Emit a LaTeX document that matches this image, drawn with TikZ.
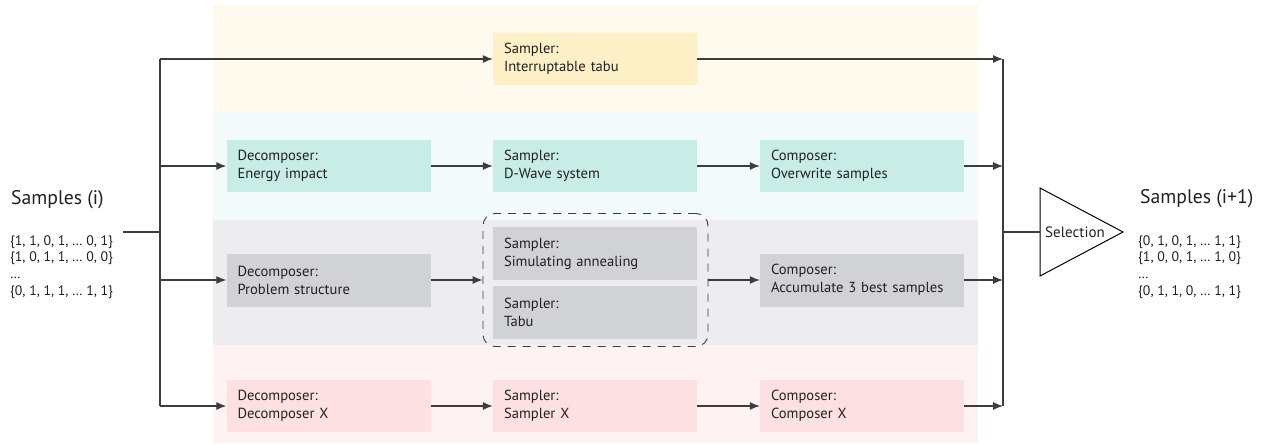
\documentclass[tikz,border=0pt]{standalone}
\usepackage{fontspec}
\setmainfont{PT Sans}
\usetikzlibrary{arrows.meta}
\definecolor{ybandc}{HTML}{FEFBEE}
\definecolor{yboxc}{HTML}{FEF0C6}
\definecolor{cbandc}{HTML}{F3FBFA}
\definecolor{cboxc}{HTML}{C7EDE6}
\definecolor{gbandc}{HTML}{EDEDEF}
\definecolor{gboxc}{HTML}{D1D2D6}
\definecolor{pbandc}{HTML}{FEF2F2}
\definecolor{pboxc}{HTML}{FDE1E2}
\definecolor{txtc}{HTML}{231F20}
\definecolor{linec}{HTML}{3C3C3C}
\tikzset{
  stagebox/.style={minimum width=204pt, minimum height=52pt, text width=182pt,
    inner xsep=11pt, inner ysep=0pt, align=left, text=txtc,
    font=\fontsize{14.6}{18}\selectfont},
  flow/.style={draw=linec, line width=1.1pt, -{Latex[length=10pt,width=8pt]}},
  plain/.style={draw=linec, line width=1.1pt},
  datatext/.style={align=left, text=txtc, inner sep=0pt, font=\fontsize{13.8}{16.7}\selectfont},
  bigtext/.style={text=txtc, inner sep=0pt, font=\fontsize{19.7}{22}\selectfont}
}
\begin{document}
\begin{tikzpicture}[x=1pt,y=-1pt]
\useasboundingbox (0,0) rectangle (1266,444);
% bands
\fill[ybandc] (213,5) rectangle (978,112);
\fill[cbandc] (213,112) rectangle (978,220);
\fill[gbandc] (213,220) rectangle (978,345);
\fill[pbandc] (213,345) rectangle (978,443);
% boxes
\node[stagebox, fill=yboxc] (ys) at (595,59) {Sampler:\\Interruptable tabu};
\node[stagebox, fill=cboxc] (cd) at (328.5,166) {Decomposer:\\Energy impact};
\node[stagebox, fill=cboxc] (cs) at (595,166) {Sampler:\\D-Wave system};
\node[stagebox, fill=cboxc] (cc) at (862,166) {Composer:\\Overwrite samples};
\node[stagebox, fill=gboxc, minimum height=53pt] (gd) at (328.5,280) {Decomposer:\\Problem structure};
\node[stagebox, fill=gboxc, minimum height=53pt] (gsa) at (595,253.5) {Sampler:\\Simulating annealing};
\node[stagebox, fill=gboxc, minimum height=53pt] (gst) at (595,312.5) {Sampler:\\Tabu};
\node[draw=linec, line width=0.9pt, dash pattern=on 8pt off 7pt, rounded corners=12pt,
      minimum width=225pt, minimum height=133pt, inner sep=0pt] (grp) at (595.5,280) {};
\node[stagebox, fill=gboxc, minimum height=53pt] (gc) at (862,280) {Composer:\\\mbox{Accumulate 3 best samples}};
\node[stagebox, fill=pboxc] (pd) at (328.5,406) {Decomposer:\\Decomposer X};
\node[stagebox, fill=pboxc] (ps) at (595,406) {Sampler:\\Sampler X};
\node[stagebox, fill=pboxc] (pc) at (862,406) {Composer:\\Composer X};
% left texts
\node[bigtext, anchor=west] (sin) at (11,200) {Samples (i)};
\node[datatext, anchor=west] (din) at (10,267) {\{1, 1, 0, 1, … 0, 1\}\\\{1, 0, 1, 1, … 0, 0\}\\…\\\{0, 1, 1, 1, … 1, 1\}};
% right texts
\node[bigtext, anchor=west] (sout) at (1140,199) {Samples (i+1)};
\node[datatext, anchor=west] (dout) at (1138,267) {\{0, 1, 0, 1, … 1, 1\}\\\{1, 0, 0, 1, … 1, 0\}\\…\\\{0, 1, 1, 0, … 1, 1\}};
% selection triangle
\coordinate (selin) at (1040,232);
\draw[line width=1pt, draw=black] (1040,188) -- (1123,232) -- (1040,276) -- cycle;
\node[text=txtc, inner sep=0pt, font=\fontsize{15}{17}\selectfont] (sel) at (1075,232) {Selection};
% buses
\coordinate (inp) at (123,232);
\coordinate (lbus) at (160,232);
\coordinate (ltop) at (160,59);
\coordinate (lbot) at (160,406);
\coordinate (rtop) at (1003,59);
\coordinate (rbot) at (1003,406);
\draw[plain] (inp) -- (lbus);
\draw[plain] (ltop) -- (lbot);
\draw[plain] (rtop) -- (rbot);
\draw[plain] (rtop |- selin) -- (selin);
% left fan-out
\draw[flow] (ltop) -- (ys.west);
\draw[flow] (ltop |- cd.west) -- (cd.west);
\draw[flow] (ltop |- gd.west) -- (gd.west);
\draw[flow] (ltop |- pd.west) -- (pd.west);
% rows
\draw[flow] (cd) -- (cs);
\draw[flow] (cs) -- (cc);
\draw[flow] (gd) -- (grp);
\draw[flow] (grp) -- (gc);
\draw[flow] (pd) -- (ps);
\draw[flow] (ps) -- (pc);
% right fan-in
\draw[flow] (ys.east) -- (rtop);
\draw[flow] (cc.east) -- (rtop |- cc.east);
\draw[flow] (gc.east) -- (rtop |- gc.east);
\draw[flow] (pc.east) -- (rtop |- pc.east);
\end{tikzpicture}
\end{document}
